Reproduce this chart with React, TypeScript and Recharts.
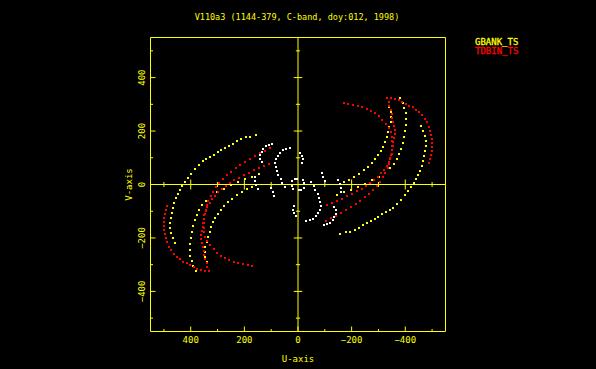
import React from 'react';
import { ScatterChart, Scatter, XAxis, YAxis, ReferenceLine, Legend } from 'recharts';

// UV samples [u, v] for one half of the plane.
// The other half of the plot holds the conjugate samples (-u, -v) of the same visibilities.
const gbankArc1: [number, number][] = [
  [157, 185], [179, 179], [194, 176], [213, 170], [228, 162], [242, 151], [257, 144], [272, 136],
  [287, 129], [298, 121], [313, 110], [328, 102], [343, 95], [354, 87], [369, 72], [384, 57],
  [399, 39], [410, 24], [421, 9], [433, -6], [440, -21], [448, -36], [455, -51], [463, -70],
  [466, -89], [470, -108], [474, -126], [477, -145], [476, -164], [472, -183], [466, -201], [459, -220],
];
const gbankArc2: [number, number][] = [
  [172, -10], [190, -18], [209, -27], [228, -40], [246, -55], [261, -66], [276, -81], [287, -96],
  [298, -111], [310, -126], [317, -141], [325, -160], [330, -179], [336, -198], [341, -216],
  [345, -235], [347, -254], [345, -273], [341, -291], [338, -310],
];
const gbankArc3: [number, number][] = [
  [145, 39], [172, 29], [198, 20], [224, 9], [250, -3], [276, -16], [302, -29], [325, -44],
  [343, -61], [358, -78], [369, -96], [377, -115], [384, -134], [390, -156], [395, -179],
  [399, -201], [401, -224], [403, -246], [401, -269], [397, -288], [392, -306], [380, -325],
];
const tdbinArc1: [number, number][] = [
  [490, -81], [494, -96], [496, -111], [498, -126], [498, -141], [498, -156], [498, -171],
  [496, -186], [492, -201], [489, -216], [481, -233], [474, -246], [464, -260], [453, -271],
  [440, -280], [427, -290], [414, -295], [401, -301], [388, -308], [375, -316], [362, -321], [347, -323],
];
const tdbinArc2: [number, number][] = [
  [172, -305], [188, -301], [205, -297], [222, -293], [239, -290], [256, -284], [272, -276],
  [287, -267], [302, -256], [315, -243], [328, -228], [339, -213], [347, -196], [351, -179],
  [352, -162], [352, -145], [351, -128], [347, -111], [343, -95], [339, -78], [334, -61],
  [326, -44], [317, -27], [306, -10], [293, 5], [280, 20], [265, 35], [250, 48], [233, 61],
  [216, 72], [198, 84], [179, 95], [160, 106], [142, 117], [123, 127], [104, 136],
];
const tdbinArc3: [number, number][] = [
  [332, -325], [338, -310], [341, -295], [345, -280], [349, -265], [352, -250], [356, -235],
  [358, -220], [360, -205], [360, -190], [358, -175], [356, -160], [354, -145], [352, -130],
  [349, -115], [343, -100], [338, -85], [330, -70], [321, -55], [310, -42], [297, -29],
  [283, -18], [269, -6], [254, 5], [237, 16], [220, 26], [201, 35], [183, 44], [164, 54],
  [145, 61], [127, 69], [108, 76],
];
const shortArcA: [number, number][] = [
  [97, 153], [108, 149], [119, 144], [129, 134], [136, 123], [140, 110], [140, 97], [136, 86],
];
const shortArcB: [number, number][] = [
  [30, 138], [43, 134], [56, 129], [67, 119], [76, 108], [82, 95], [84, 80], [82, 65],
  [78, 50], [73, 35], [65, 20], [58, 5], [50, -8],
];
const shortArcC: [number, number][] = [[99, -14], [95, -29], [90, -44]];
const shortArcD: [number, number][] = [[159, 27], [160, 12], [157, -3], [151, -18]];
const shortArcE: [number, number][] = [[22, 12], [23, -5], [19, -16], [13, 19], [4, 22]];
const shortArcF: [number, number][] = [[15, -81], [17, -95], [15, -108], [9, -119]];

const axisTicks = [-500, -400, -300, -200, -100, 0, 100, 200, 300, 400, 500];
const axisDomain: [number, number] = [-550, 550];

const seriesNames = { gbank: 'GBANK_TS', tdbin: 'TDBIN_TS' };
const titleText = 'V110a3 (1144-379, C-band, doy:012, 1998)';
const xLabel = 'U-axis';
const yLabel = 'V-axis';

const YEL = '#ffff00';
const RED = '#ff0000';
const WHT = '#ffffff';
const FONT = '"DejaVu Sans Mono", monospace';

const withConjugates = (arcs: [number, number][][]) =>
  arcs.flat().flatMap(([u, v]) => [{ u, v }, { u: -u, v: -v }]);

const gbankData = withConjugates([gbankArc1, gbankArc2, gbankArc3]);
const tdbinData = withConjugates([tdbinArc1, tdbinArc2, tdbinArc3]);
const otherData = withConjugates([shortArcA, shortArcB, shortArcC, shortArcD, shortArcE, shortArcF]);

const uZeroTicks = axisTicks.filter((t) => t !== 0).map((t) => ({ u: t, v: 0 }));
const vZeroTicks = axisTicks.filter((t) => t !== 0).map((t) => ({ u: 0, v: t }));

const isMajor = (v: number) => v % 200 === 0;
const fmt = (v: number) => (v < 0 ? '\u2212' + Math.abs(v) : String(v));
const tlen = (v: number) => (isMajor(v) ? 5 : 2.5);

const BottomTick = (p: any) => {
  const v = p.payload.value;
  return (
    <g>
      <line x1={p.x} y1={p.y} x2={p.x} y2={p.y - tlen(v)} stroke={YEL} />
      {isMajor(v) && (
        <text x={p.x} y={p.y + 11.5} textAnchor="middle" fill={YEL} fontSize={9} fontFamily={FONT}>
          {fmt(v)}
        </text>
      )}
    </g>
  );
};
const TopTick = (p: any) => (
  <line x1={p.x} y1={p.y} x2={p.x} y2={p.y + tlen(p.payload.value)} stroke={YEL} />
);
const LeftTick = (p: any) => {
  const v = p.payload.value;
  const lx = p.x - 5.5;
  return (
    <g>
      <line x1={p.x} y1={p.y} x2={p.x + tlen(v)} y2={p.y} stroke={YEL} />
      {isMajor(v) && (
        <text x={lx} y={p.y} transform={`rotate(-90 ${lx} ${p.y})`} textAnchor="middle" fill={YEL} fontSize={9} fontFamily={FONT}>
          {fmt(v)}
        </text>
      )}
    </g>
  );
};
const RightTick = (p: any) => (
  <line x1={p.x} y1={p.y} x2={p.x - tlen(p.payload.value)} y2={p.y} stroke={YEL} />
);

const dotShape = (fill: string) => (p: any) =>
  <rect x={Math.round(p.cx) - 1} y={Math.round(p.cy) - 1} width={2} height={2} fill={fill} shapeRendering="crispEdges" />;

const uTickShape = (p: any) => {
  const len = tlen(p.payload.u);
  return <line x1={p.cx} x2={p.cx} y1={p.cy - len} y2={p.cy + len} stroke={YEL} />;
};
const vTickShape = (p: any) => {
  const len = tlen(p.payload.v) * 0.85;
  return <line x1={p.cx - len} x2={p.cx + len} y1={p.cy} y2={p.cy} stroke={YEL} />;
};

const renderLegend = (props: any) => {
  const items = (props.payload || []).filter((e: any) => e.type !== 'none');
  return (
    <svg width={90} height={24}>
      {items.map((e: any, i: number) => (
        <text key={i} x={0} y={8 + i * 9.3} fill={e.color} stroke={e.color} strokeWidth={0.3} fontSize={9} fontFamily={FONT}>
          {e.value}
        </text>
      ))}
    </svg>
  );
};

export default function App() {
  return (
    <div style={{ position: 'absolute', left: 0, top: 0, width: 596, height: 369, background: '#000' }}>
      <svg style={{ position: 'absolute', left: 0, top: 0 }} width={596} height={30}>
        <text x={297} y={19.5} textAnchor="middle" fill={YEL} fontSize={8.5} fontFamily={FONT}>
          {titleText}
        </text>
      </svg>
      <ScatterChart width={596} height={369} margin={{ top: 36.5, right: 149.5, bottom: 36.5, left: 149.5 }}>
        <XAxis
          type="number" dataKey="u" domain={axisDomain} reversed ticks={axisTicks} interval={0}
          height={1} tickSize={0} tickMargin={0} tickLine={false} axisLine={{ stroke: YEL }} tick={BottomTick}
          label={(lp: any) => (
            <text x={lp.viewBox.x + lp.viewBox.width / 2} y={lp.viewBox.y + 30} textAnchor="middle" fill={YEL} fontSize={9} fontFamily={FONT}>
              {xLabel}
            </text>
          )}
        />
        <XAxis
          xAxisId="top" orientation="top" type="number" dataKey="u" domain={axisDomain} reversed ticks={axisTicks}
          interval={0} height={1} tickSize={0} tickMargin={0} tickLine={false} axisLine={{ stroke: YEL }} tick={TopTick}
        />
        <YAxis
          type="number" dataKey="v" domain={axisDomain} ticks={axisTicks} interval={0}
          width={1} tickSize={0} tickMargin={0} tickLine={false} axisLine={{ stroke: YEL }} tick={LeftTick}
          label={(lp: any) => {
            const x = lp.viewBox.x + lp.viewBox.width - 18.5;
            const y = lp.viewBox.y + lp.viewBox.height / 2;
            return (
              <text x={x} y={y} transform={`rotate(-90 ${x} ${y})`} textAnchor="middle" fill={YEL} fontSize={9} fontFamily={FONT}>
                {yLabel}
              </text>
            );
          }}
        />
        <YAxis
          yAxisId="right" orientation="right" type="number" dataKey="v" domain={axisDomain} ticks={axisTicks}
          interval={0} width={1} tickSize={0} tickMargin={0} tickLine={false} axisLine={{ stroke: YEL }} tick={RightTick}
        />
        <ReferenceLine x={0} stroke={YEL} />
        <ReferenceLine y={0} stroke={YEL} />
        <Scatter data={uZeroTicks} shape={uTickShape} legendType="none" isAnimationActive={false} />
        <Scatter data={vZeroTicks} shape={vTickShape} legendType="none" isAnimationActive={false} />
        <Scatter name={seriesNames.gbank} data={gbankData} fill={YEL} shape={dotShape(YEL)} isAnimationActive={false} />
        <Scatter name={seriesNames.tdbin} data={tdbinData} fill={RED} shape={dotShape(RED)} isAnimationActive={false} />
        <Scatter data={otherData} fill={WHT} shape={dotShape(WHT)} legendType="none" isAnimationActive={false} />
        <Legend
          layout="vertical" align="center" verticalAlign="middle" content={renderLegend}
          wrapperStyle={{ left: 475, top: 37, width: 90, height: 24 }}
        />
      </ScatterChart>
    </div>
  );
}
